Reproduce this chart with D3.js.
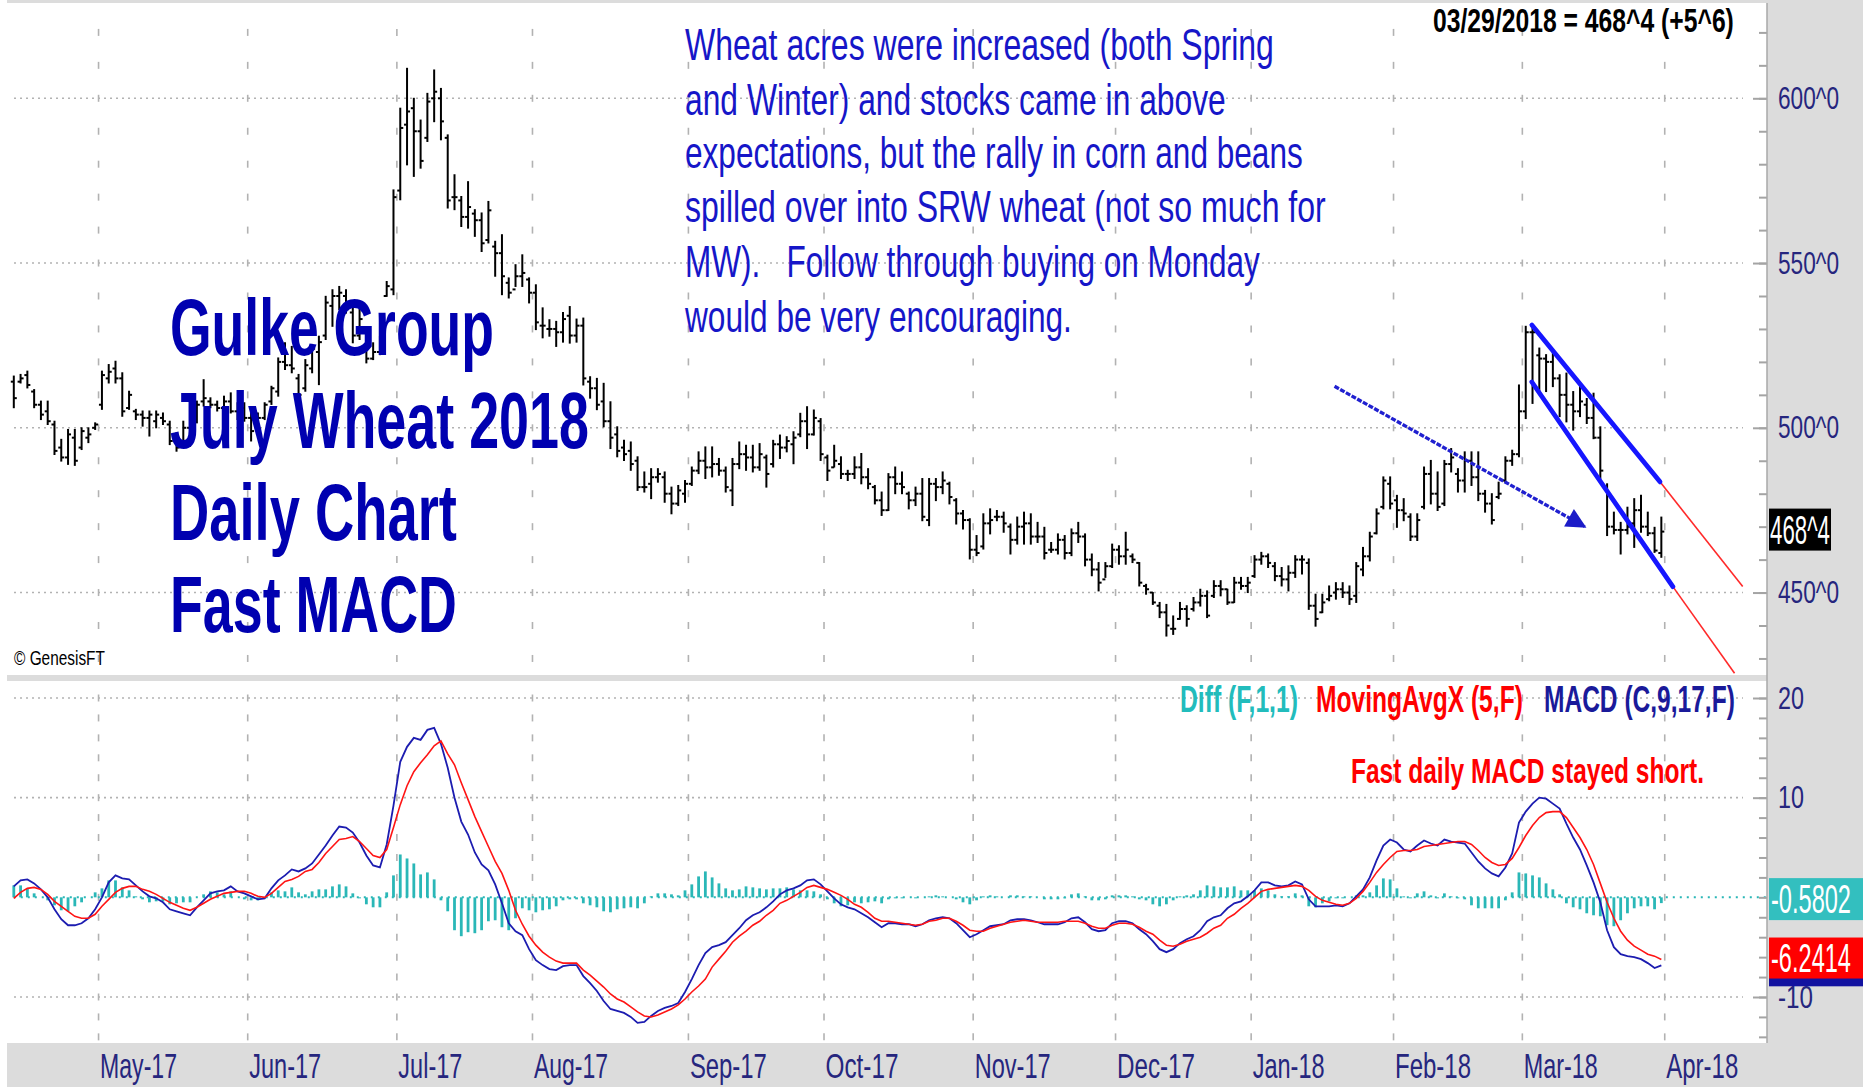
<!DOCTYPE html>
<html><head><meta charset="utf-8">
<script src="https://cdn.jsdelivr.net/npm/d3@7"></script>
<style>
html,body{margin:0;padding:0;background:#fff;}
svg{display:block;}
</style></head><body>
<svg id="chart" width="1863" height="1087"></svg>
<script>
// ---------------- DATA ----------------
const high = [515.7,516.2,517.2,511.6,508.1,508.1,502.0,496.5,499.5,499.5,
500.0,500.0,501.5,517.2,519.2,520.2,516.7,511.1,505.6,505.1,
505.1,505.1,504.5,502.0,498.5,502.0,503.5,508.1,514.6,509.1,
508.1,509.6,510.6,507.6,507.6,505.1,504.5,507.6,512.6,521.2,
525.8,524.7,516.2,520.7,525.3,527.8,539.9,541.9,542.9,541.9,
536.4,535.9,525.8,525.8,527.8,544.4,572.2,597.0,609.1,600.0,
593.4,601.5,608.6,603.0,588.9,576.8,570.2,574.7,566.2,565.2,
568.7,556.6,558.6,545.5,549.5,552.5,545.5,543.4,536.4,532.8,
532.3,535.0,536.8,533.0,533.3,515.5,515.0,513.5,507.9,500.3,
496.2,495.7,491.2,486.6,487.6,487.6,486.6,482.0,482.5,484.0,
488.1,492.7,494.2,494.2,490.7,488.1,490.7,495.7,494.7,494.7,
495.2,491.7,496.2,497.8,497.3,498.8,504.4,506.4,505.4,502.8,
491.7,494.7,491.2,487.1,491.2,492.2,487.6,482.5,480.5,486.1,
488.1,486.6,480.5,482.0,484.6,484.6,484.6,486.6,483.5,478.5,
474.9,472.4,467.3,473.9,475.4,474.9,474.4,470.8,472.9,474.4,
473.9,471.3,469.8,465.2,467.8,467.3,469.3,471.3,467.8,461.7,
459.1,459.1,464.7,464.2,468.3,461.7,459.1,452.5,450.0,447.0,
446.4,442.9,447.0,446.0,448.5,451.0,450.5,453.6,453.6,451.0,
454.6,454.6,454.6,461.2,462.2,461.7,459.1,457.6,458.1,461.2,
461.2,460.2,449.5,449.5,452.0,453.0,453.0,452.0,459.1,463.7,
468.3,475.4,485.1,485.1,479.5,478.5,473.9,473.9,488.1,490.1,
486.6,490.1,493.7,487.6,492.7,492.7,492.7,481.0,480.0,483.5,
491.2,493.2,513.0,530.8,531.3,524.2,522.2,523.2,516.1,516.6,
511.0,513.0,508.9,510.5,500.3,483.0,474.4,471.3,475.9,478.5,
479.5,474.4,469.8,472.9];
const low = [506.1,513.6,512.1,506.1,502.5,501.0,491.9,489.9,488.9,488.6,
493.4,495.5,499.5,505.6,513.6,513.6,503.5,505.6,502.5,500.5,
497.5,500.0,501.0,494.9,492.9,494.4,494.4,501.5,506.6,506.1,
505.1,504.5,504.5,502.5,502.0,496.0,501.5,502.5,507.1,509.6,
517.7,516.7,508.6,511.1,516.7,513.1,526.8,530.8,535.9,534.8,
525.8,526.8,519.7,520.7,522.2,539.9,540.4,569.2,579.8,576.3,
578.8,586.9,592.9,587.4,566.7,566.2,561.1,560.6,558.1,553.5,
556.1,546.0,540.4,539.4,542.9,542.9,537.9,529.8,527.3,527.8,
524.7,526.0,525.7,526.0,513.0,509.0,505.5,500.3,493.7,491.2,
490.1,487.1,481.0,480.5,478.5,483.5,477.4,473.9,476.4,477.4,
482.5,486.1,484.6,485.1,485.6,480.5,476.4,487.6,487.1,486.6,
487.1,482.0,488.1,490.7,492.7,489.1,497.3,493.7,497.8,490.1,
484.0,488.1,484.6,484.0,484.6,483.0,481.5,476.9,473.4,474.9,
480.0,480.0,475.4,476.4,471.8,470.3,477.9,480.0,476.9,470.8,
469.3,460.2,461.2,463.2,467.8,471.8,468.3,461.7,464.7,464.7,
464.7,465.2,460.2,462.2,461.7,460.2,461.2,465.2,458.1,455.1,
450.5,454.6,457.6,458.6,458.6,459.1,452.0,449.5,446.4,442.4,
436.8,437.3,441.9,439.8,444.4,445.9,442.4,448.5,449.0,446.4,
447.0,451.0,450.0,454.6,458.6,457.6,453.6,452.0,450.5,454.6,
455.6,444.9,439.8,443.9,447.5,448.0,448.5,446.4,447.0,455.1,
459.6,467.8,475.4,475.4,469.8,471.8,465.8,465.8,475.4,476.9,
474.9,476.4,486.6,480.5,480.5,482.5,477.9,474.4,470.8,478.5,
483.5,488.6,491.2,502.8,507.4,510.5,511.0,512.5,503.4,501.8,
499.3,503.4,501.3,496.7,484.6,467.3,467.8,461.7,467.8,463.7,
468.3,467.3,462.2,460.7];
const open = [514,514,516,511,507,505,501,494,491,497,
494,497,500,507,515,518,515,506,505,504,
503,502,503,501,496,495,500,502,508,508,
507,506,508,505,506,503,502,503,508,511,
520,519,515,512,518,523,528,537,540,540,
535,528,524,521,523,540,542,572,592,597,
590,588,600,600,588,570,569,564,565,563,
557,555,553,544,542,546,545,541,531,530,
530,529,534,528,531,514,512,508,502,498,
494,493,490,482,483,485,485,480,477,480,
483,487,490,488,489,487,481,489,492,491,
488,491,489,495,494,495,498,502,498,502,
491,488,489,486,486,488,485,482,478,475,
485,483,480,478,480,472,483,482,483,478,
474,472,463,464,471,473,473,470,466,470,
471,467,467,463,463,466,462,468,467,460,
457,454,458,463,461,461,459,452,450,446,
444,439,442,445,445,447,449,449,452,451,
447,453,452,455,460,461,458,455,454,456,
460,459,446,444,448,450,451,450,449,457,
461,468,476,483,478,475,473,467,476,486,
480,477,489,486,484,490,485,480,477,479,
484,490,492,505,529,522,521,520,515,510,
507,505,507,503,497,482,470,469,469,471,
475,470,468,462];
const close = [509,515,513,507,504,502,493,491,498,490,
499,498,501,516,517,515,505,510,504,503,
504,504,502,496,494,500,502,507,509,507,
506,508,505,506,503,499,503,507,512,520,
519,518,510,519,524,526,538,540,541,536,
528,533,521,523,527,543,570,591,596,590,
581,599,602,593,569,570,564,567,563,556,
566,553,546,541,546,547,541,532,531,530,
529,533,528,531,515,512,507,502,497,493,
492,489,482,482,485,486,480,477,481,483,
487,490,488,489,487,482,489,492,491,488,
492,486,495,494,496,497,502,498,503,492,
487,490,486,486,488,485,483,478,475,485,
483,482,478,480,473,483,482,484,479,474,
472,463,462,471,472,473,471,466,470,471,
467,467,462,463,466,462,468,467,460,457,
453,458,463,461,463,460,453,451,447,444,
440,439,445,442,447,449,443,452,451,447,
453,452,453,460,461,459,455,454,456,460,
460,446,442,447,449,451,450,448,458,461,
467,474,484,477,475,474,467,472,486,480,
476,489,491,484,490,485,480,477,472,480,
490,492,505,529,529,521,520,515,510,507,
505,508,503,497,487,470,469,469,470,475,
470,468,462.75,468.5];
const macd = [1.1,1.7,1.8,1.4,0.8,0.0,-1.2,-2.2,-2.8,-2.8,
-2.6,-2.1,-1.2,0.0,1.5,2.2,1.9,1.8,1.2,0.6,
0.1,-0.1,-0.5,-1.2,-1.4,-1.6,-1.8,-1.0,-0.3,0.4,
0.6,0.7,1.1,0.6,0.4,0.1,-0.2,-0.1,0.9,1.7,
2.2,2.8,2.6,2.9,3.4,4.3,5.2,6.2,7.1,7.0,
6.5,5.5,4.2,3.2,3.0,5.3,9.2,13.6,15.1,16.0,
15.8,16.8,17.0,15.4,13.0,10.0,7.6,6.3,4.5,3.3,
2.7,1.3,-0.6,-2.6,-3.4,-3.8,-5.2,-6.3,-6.8,-7.2,
-7.3,-6.9,-6.8,-6.8,-7.9,-8.6,-9.4,-10.4,-11.2,-11.4,
-11.6,-12.0,-12.6,-12.5,-11.9,-11.4,-11.1,-10.9,-10.6,-9.5,
-8.2,-6.8,-5.6,-5.0,-4.8,-4.5,-3.8,-3.1,-2.3,-1.8,
-1.5,-1.0,-0.4,0.3,0.7,0.9,1.2,1.7,1.8,1.3,
0.6,-0.1,-0.7,-1.0,-1.2,-1.6,-2.0,-2.5,-3.0,-2.6,
-2.6,-2.7,-2.7,-2.9,-2.7,-2.3,-2.1,-2.0,-2.1,-2.6,
-3.3,-4.0,-3.7,-3.3,-2.9,-2.8,-2.7,-2.3,-2.2,-2.2,
-2.3,-2.5,-2.7,-2.7,-2.7,-2.5,-2.1,-2.0,-2.5,-3.2,
-3.4,-3.3,-2.6,-2.4,-2.4,-2.6,-3.2,-3.7,-4.4,-5.2,
-5.5,-5.2,-4.6,-4.2,-3.9,-3.3,-2.4,-2.0,-1.8,-1.1,
-0.6,-0.4,0.1,0.7,1.5,1.5,1.2,1.1,1.2,1.6,
1.3,-0.2,-0.9,-0.9,-0.9,-0.8,-0.9,-0.6,0.1,0.8,
2.0,3.7,5.2,5.8,5.5,4.8,4.6,5.2,5.7,5.4,
5.2,5.8,5.6,5.5,5.4,4.5,3.6,2.9,2.4,2.1,
3.0,4.4,7.5,8.6,9.4,10.0,9.9,9.4,8.9,7.4,
6.0,4.8,3.2,1.5,-0.5,-3.3,-5.0,-5.7,-5.9,-6.0,
-6.2,-6.6,-7.1,-6.82];
const signal = [-0.1,0.5,0.9,1.0,0.8,0.3,-0.4,-0.9,-1.4,-1.9,
-2.1,-2.1,-1.7,-0.9,-0.2,0.5,0.9,1.1,1.1,0.8,
0.6,0.3,-0.1,-0.5,-0.8,-1.1,-1.3,-1.0,-0.6,-0.2,
0.1,0.4,0.5,0.6,0.6,0.4,0.1,0.0,0.4,1.0,
1.6,1.8,2.1,2.6,2.8,3.5,4.4,5.1,5.8,5.9,
6.1,5.6,4.9,4.2,4.0,4.8,7.0,9.3,11.2,12.6,
13.5,14.3,15.2,15.7,14.4,13.3,11.5,9.8,8.1,6.6,
5.1,3.6,2.4,0.7,-1.3,-2.7,-3.9,-4.8,-5.5,-6.0,
-6.4,-6.6,-6.6,-6.6,-7.3,-7.8,-8.4,-9.0,-9.7,-10.2,
-10.5,-11.0,-11.5,-11.9,-12.0,-11.8,-11.5,-11.2,-10.8,-10.2,
-9.5,-8.9,-8.2,-7.0,-6.2,-5.4,-4.5,-3.9,-3.4,-2.8,
-2.4,-1.8,-1.3,-0.6,-0.3,0.1,0.5,1.0,1.2,1.0,
0.8,0.5,0.2,-0.2,-0.7,-1.0,-1.5,-2.1,-2.4,-2.4,
-2.5,-2.6,-2.7,-2.8,-2.7,-2.4,-2.3,-2.1,-2.1,-2.4,
-2.8,-3.3,-3.4,-3.4,-3.1,-2.9,-2.7,-2.5,-2.4,-2.3,
-2.4,-2.5,-2.5,-2.5,-2.5,-2.4,-2.4,-2.4,-2.6,-2.9,
-3.1,-3.1,-2.8,-2.6,-2.6,-2.7,-3.0,-3.4,-3.7,-4.3,
-4.8,-4.9,-4.7,-4.4,-4.2,-4.0,-3.6,-3.1,-2.8,-2.1,
-1.7,-1.1,-0.6,0.0,0.6,0.8,0.9,1.0,1.1,1.2,
1.1,0.7,0.1,-0.3,-0.5,-0.7,-0.8,-0.6,-0.1,0.6,
1.5,2.5,3.3,4.0,4.6,4.7,4.7,4.8,5.1,5.2,
5.3,5.4,5.5,5.6,5.6,5.3,4.7,4.0,3.5,3.2,
3.3,3.9,5.0,6.2,7.2,8.0,8.5,8.6,8.6,8.0,
7.0,6.0,4.8,3.3,1.4,-0.5,-2.1,-3.4,-4.3,-4.9,
-5.3,-5.7,-5.9,-6.24];
const diff = [1.2,1.2,0.9,0.4,0.0,-0.3,-0.8,-1.3,-1.4,-0.9,
-0.5,0.0,0.5,0.9,1.7,1.7,1.0,0.7,0.1,-0.2,
-0.5,-0.4,-0.4,-0.7,-0.6,-0.5,-0.5,0.0,0.3,0.6,
0.5,0.3,0.6,0.0,-0.2,-0.3,-0.3,-0.1,0.5,0.7,
0.6,1.0,0.5,0.3,0.6,0.8,0.8,1.1,1.3,1.1,
0.4,-0.1,-0.7,-1.0,-1.0,0.5,2.2,4.3,3.9,3.4,
2.3,2.5,1.8,-0.3,-1.4,-3.3,-3.9,-3.5,-3.6,-3.3,
-2.4,-2.3,-3.0,-3.3,-2.1,-1.1,-1.3,-1.5,-1.3,-1.2,
-0.9,-0.3,-0.2,-0.2,-0.6,-0.8,-1.0,-1.4,-1.5,-1.2,
-1.1,-1.0,-1.1,-0.6,0.1,0.4,0.4,0.3,0.2,0.7,
1.3,2.1,2.6,2.0,1.4,0.9,0.7,0.8,1.1,1.0,
0.9,0.8,0.9,0.9,1.0,0.8,0.7,0.7,0.6,0.3,
-0.2,-0.6,-0.9,-0.8,-0.5,-0.6,-0.5,-0.4,-0.6,-0.2,
-0.1,-0.1,0.0,-0.1,0.0,0.1,0.2,0.1,0.0,-0.2,
-0.5,-0.7,-0.3,0.1,0.2,0.1,0.0,0.2,0.2,0.1,
0.1,0.0,-0.2,-0.2,-0.2,-0.1,0.3,0.4,0.1,-0.3,
-0.3,-0.2,0.2,0.2,0.2,0.1,-0.2,-0.3,-0.7,-0.9,
-0.7,-0.3,0.1,0.2,0.3,0.7,1.2,1.1,1.0,1.0,
1.1,0.7,0.7,0.7,0.9,0.7,0.3,0.1,0.1,0.4,
0.2,-0.9,-1.0,-0.6,-0.4,-0.1,-0.1,0.0,0.2,0.2,
0.5,1.2,1.9,1.8,0.9,0.1,-0.1,0.4,0.6,0.2,
-0.1,0.4,0.1,-0.1,-0.2,-0.8,-1.1,-1.1,-1.1,-1.1,
-0.3,0.5,2.5,2.4,2.2,2.0,1.4,0.8,0.3,-0.6,
-1.0,-1.2,-1.6,-1.8,-1.9,-2.8,-2.9,-2.3,-1.6,-1.1,
-0.9,-0.9,-1.2,-0.5802];
const monthStartIndex = [13,35,57,77,100,120,142,163,183,204,223,244];
const monthLabels = ["May-17","Jun-17","Jul-17","Aug-17","Sep-17","Oct-17","Nov-17","Dec-17","Jan-18","Feb-18","Mar-18","Apr-18"];
const priceTicks = [600,550,500,450];
const priceTickLabels = ["600^0","550^0","500^0","450^0"];
const macdTicks = [20,10,-10];
const macdTickLabels = ["20","10","-10"];
const lastPriceLabel = "468^4";
const lastDiffLabel = "-0.5802";
const lastSignalLabel = "-6.2414";
const headerText = "03/29/2018 = 468^4 (+5^6)";
const titleLines = ["Gulke Group","July Wheat 2018","Daily Chart","Fast MACD"];
const noteLines = ["Wheat acres were increased (both Spring","and Winter) and stocks came in above","expectations, but the rally in corn and beans","spilled over into SRW wheat (not so much for","MW).   Follow through buying on Monday","would be very encouraging."];
const legendItems = ["Diff (F,1,1)","MovingAvgX (5,F)","MACD (C,9,17,F)"];
const macdNote = "Fast daily MACD stayed short.";
const copyright = "\u00A9 GenesisFT";
// trend lines in (bar index, price)
const arrowLine = [[194.8,512.6],[231.7,470.0]];
const upperChannel = [[223.9,531.2],[242.8,483.6]];
const upperExtension = [[242.8,483.6],[255.0,451.8]];
const lowerChannel = [[223.9,513.9],[244.7,451.8]];
const lowerExtension = [[244.7,451.8],[253.8,425.5]];

// ---------------- LAYOUT ----------------
const W = 1863, H = 1087;
const plotL = 7, plotR = 1767;
const pTop = 3, pBot = 675, mTop = 681, mBot = 1043;
const FONT = '"Liberation Sans", Arial, Helvetica, sans-serif';
const NAVY = "#26267e", GRID = "#b2b2b2", GRAY = "#dcdcdc";

const svg = d3.select("#chart");
const x = d3.scaleLinear().domain([0, high.length - 1]).range([13.8, 13.8 + 6.78 * (high.length - 1)]);
const yP = d3.scaleLinear().domain([450, 600]).range([592.55, 98.3]);
const yM = d3.scaleLinear().domain([-10, 20]).range([997, 698]);

const defs = svg.append("defs");
defs.append("clipPath").attr("id","clipP").append("rect").attr("x",plotL).attr("y",pTop).attr("width",plotR-plotL).attr("height",pBot-pTop);
defs.append("clipPath").attr("id","clipM").append("rect").attr("x",plotL).attr("y",mTop).attr("width",plotR-plotL).attr("height",mBot-mTop);
defs.append("marker").attr("id","ah").attr("viewBox","0 0 10 10").attr("refX",9).attr("refY",5)
  .attr("markerUnits","userSpaceOnUse").attr("markerWidth",22).attr("markerHeight",20).attr("orient","auto")
  .append("path").attr("d","M0,0 L10,5 L0,10 z").attr("fill","#1c1cc8");

// squeeze a text horizontally to a target width (the source chart uses a very condensed face)
function squeeze(node, px, py, w) {
  const nat = node.getComputedTextLength();
  const k = nat > 0 ? w / nat : 1;
  d3.select(node).attr("x", 0).attr("y", 0).attr("dy", null)
    .attr("transform", `translate(${px},${py}) scale(${k},1)`);
}
function txt(g, s, px, py, size, w, fill, weight) {
  const t = g.append("text").attr("font-size", size)
    .attr("font-family", FONT).attr("fill", fill).attr("font-weight", weight || "normal")
    .style("white-space", "pre").text(s);
  squeeze(t.node(), px, py, w);
  return t;
}

// backgrounds
svg.append("rect").attr("x",0).attr("y",0).attr("width",W).attr("height",H).attr("fill","#fff");
svg.append("rect").attr("x",plotL).attr("y",0).attr("width",W-plotL).attr("height",H).attr("fill",GRAY);
svg.append("rect").attr("x",plotL).attr("y",pTop).attr("width",plotR-plotL).attr("height",pBot-pTop).attr("fill","#fff");
svg.append("rect").attr("x",plotL).attr("y",mTop).attr("width",plotR-plotL).attr("height",mBot-mTop).attr("fill","#fff");

// ---------- grids ----------
const gridG = svg.append("g");
const vx = monthStartIndex.map(d => x(d - 0.5));
priceTicks.forEach(p => gridG.append("line").attr("x1",14).attr("x2",1743).attr("y1",yP(p)).attr("y2",yP(p))
  .attr("stroke",GRID).attr("stroke-width",1.6).attr("stroke-dasharray","2,4"));
macdTicks.forEach(v => gridG.append("line").attr("x1",14).attr("x2",1743).attr("y1",yM(v)).attr("y2",yM(v))
  .attr("stroke",GRID).attr("stroke-width",1.6).attr("stroke-dasharray","2,4"));
vx.forEach(xx => {
  if (xx > plotR) return;
  d3.range(430, 630, 10).forEach(p => gridG.append("line").attr("x1",xx).attr("x2",xx)
    .attr("y1",yP(p)-3.5).attr("y2",yP(p)+3.5).attr("stroke",GRID).attr("stroke-width",1.6));
  d3.range(-14, 21, 2).forEach(v => gridG.append("line").attr("x1",xx).attr("x2",xx)
    .attr("y1",yM(v)-3.5).attr("y2",yM(v)+3.5).attr("stroke",GRID).attr("stroke-width",1.6));
});

// ---------- price bars ----------
const barG = svg.append("g").attr("clip-path","url(#clipP)").attr("stroke","#000").attr("stroke-width",2);
high.forEach((h, i) => {
  const cx = x(i);
  barG.append("line").attr("x1",cx).attr("x2",cx).attr("y1",yP(h)-0.5).attr("y2",yP(low[i])+0.5);
  barG.append("line").attr("x1",cx-3).attr("x2",cx).attr("y1",yP(open[i])).attr("y2",yP(open[i]));
  barG.append("line").attr("x1",cx).attr("x2",cx+3).attr("y1",yP(close[i])).attr("y2",yP(close[i]));
});

// ---------- trend lines ----------
const ln = d3.line().x(d => x(d[0])).y(d => yP(d[1]));
const trendG = svg.append("g").attr("clip-path","url(#clipP)").attr("fill","none");
trendG.append("path").attr("d", ln(upperExtension)).attr("stroke","#ff2a2a").attr("stroke-width",1.6);
trendG.append("path").attr("d", ln(lowerExtension)).attr("stroke","#ff2a2a").attr("stroke-width",1.6);
trendG.append("path").attr("d", ln(upperChannel)).attr("stroke","#1616ff").attr("stroke-width",4.8).attr("stroke-linecap","round");
trendG.append("path").attr("d", ln(lowerChannel)).attr("stroke","#1616ff").attr("stroke-width",4.8).attr("stroke-linecap","round");
trendG.append("path").attr("d", ln(arrowLine)).attr("stroke","#2020d0").attr("stroke-width",3.3)
  .attr("stroke-dasharray","5,1.5").attr("marker-end","url(#ah)");

// ---------- MACD panel ----------
const mG = svg.append("g").attr("clip-path","url(#clipM)");
diff.forEach((d, i) => {
  mG.append("line").attr("x1",x(i)).attr("x2",x(i)).attr("y1",yM(0)).attr("y2",yM(d))
    .attr("stroke","#2ab7b7").attr("stroke-width",2.8);
});
mG.append("line").attr("x1",x(0)).attr("x2",plotR).attr("y1",yM(0)).attr("y2",yM(0))
  .attr("stroke","#2ab7b7").attr("stroke-width",2).attr("stroke-dasharray","2,5");
const lm = d3.line().x((d, i) => x(i)).y(d => yM(d));
mG.append("path").attr("d", lm(macd)).attr("fill","none").attr("stroke","#1c1cb0").attr("stroke-width",1.8);
mG.append("path").attr("d", lm(signal)).attr("fill","none").attr("stroke","#ff1414").attr("stroke-width",1.6);

// ---------- axes ----------
function styleAxis(g) {
  g.select(".domain").remove();
  g.selectAll(".tick line").attr("stroke","#a4a4a4").attr("stroke-width",2);
  g.attr("font-family", FONT);
}
svg.append("g").attr("transform",`translate(${plotR},0)`)
  .call(d3.axisRight(yP).tickValues(d3.range(430, 630, 10)).tickSizeInner(-8).tickSizeOuter(0).tickFormat(""))
  .call(styleAxis);
const pAx = svg.append("g").attr("transform",`translate(${plotR},0)`)
  .call(d3.axisRight(yP).tickValues(priceTicks).tickSizeInner(-14).tickSizeOuter(0).tickPadding(11)
  .tickFormat((d, i) => priceTickLabels[i])).call(styleAxis);
pAx.selectAll("text").attr("font-size",32).attr("fill",NAVY).each(function() { squeeze(this, 11, 10, 61); });
svg.append("g").attr("transform",`translate(${plotR},0)`)
  .call(d3.axisRight(yM).tickValues(d3.range(-14, 21, 2)).tickSizeInner(-8).tickSizeOuter(0).tickFormat(""))
  .call(styleAxis);
const mAx = svg.append("g").attr("transform",`translate(${plotR},0)`)
  .call(d3.axisRight(yM).tickValues(macdTicks).tickSizeInner(-14).tickSizeOuter(0).tickPadding(11)
  .tickFormat((d, i) => macdTickLabels[i])).call(styleAxis);
mAx.selectAll("text").attr("font-size",32).attr("fill",NAVY).each(function(d) { squeeze(this, 11, 10, d < 0 ? 35 : 26); });
svg.append("line").attr("x1",plotR).attr("x2",plotR).attr("y1",pTop).attr("y2",mBot).attr("stroke","#a8a8a8").attr("stroke-width",1.5);
const monthW = [77,72,64,74,77,73,76,78,72,76,74,72];
const xAx = svg.append("g").attr("transform",`translate(0,${mBot})`)
  .call(d3.axisBottom(x).tickValues(monthStartIndex.map(d => d - 0.5)).tickSize(0).tickPadding(0)
  .tickFormat((d, i) => monthLabels[i])).call(styleAxis);
xAx.selectAll("text").attr("font-size",35).attr("fill",NAVY).attr("text-anchor","start")
  .each(function(d, i) { squeeze(this, 1, 35, monthW[i]); });

// ---------- value boxes ----------
const boxG = svg.append("g");
const lastI = close.length - 1;
boxG.append("rect").attr("x",1769).attr("y",yP(close[lastI]) - 23).attr("width",62).attr("height",42).attr("fill","#000");
txt(boxG, lastPriceLabel, 1770, yP(close[lastI]) + 12, 41, 60, "#fff");
boxG.append("rect").attr("x",1769).attr("y",yM(diff[lastI]) - 25).attr("width",94).attr("height",42).attr("fill","#33bfbf");
txt(boxG, lastDiffLabel, 1771, yM(diff[lastI]) + 10, 41, 80, "#fff");
boxG.append("rect").attr("x",1769).attr("y",yM(macd[lastI]) - 21).attr("width",94).attr("height",42).attr("fill","#1212a0");
boxG.append("rect").attr("x",1769).attr("y",yM(signal[lastI]) - 22).attr("width",94).attr("height",41).attr("fill","#ff0000");
txt(boxG, lastSignalLabel, 1771, yM(signal[lastI]) + 12, 41, 80, "#fff");

// ---------- texts ----------
const tG = svg.append("g");
const titleY = [355, 448, 540, 632], titleW = [324, 419, 287, 287];
titleLines.forEach((s, i) => txt(tG, s, 170, titleY[i], 80, titleW[i], "#0000b0", "bold"));
const noteY = [60, 115, 168, 222, 277, 332], noteW = [589, 541, 618, 641, 575, 387];
noteLines.forEach((s, i) => txt(tG, s, 685, noteY[i], 44, noteW[i], "#1616c8"));
txt(tG, headerText, 1433, 32, 33, 301, "#000", "bold");
txt(tG, copyright, 14, 665, 21, 91, "#000");
txt(tG, legendItems[0], 1180, 712, 37, 118, "#22bcbc", "bold");
txt(tG, legendItems[1], 1316, 712, 37, 207, "#ff0000", "bold");
txt(tG, legendItems[2], 1544, 712, 37, 191, "#1a1a9a", "bold");
txt(tG, macdNote, 1351, 783, 35, 353, "#ff0000", "bold");
</script>
</body></html>
